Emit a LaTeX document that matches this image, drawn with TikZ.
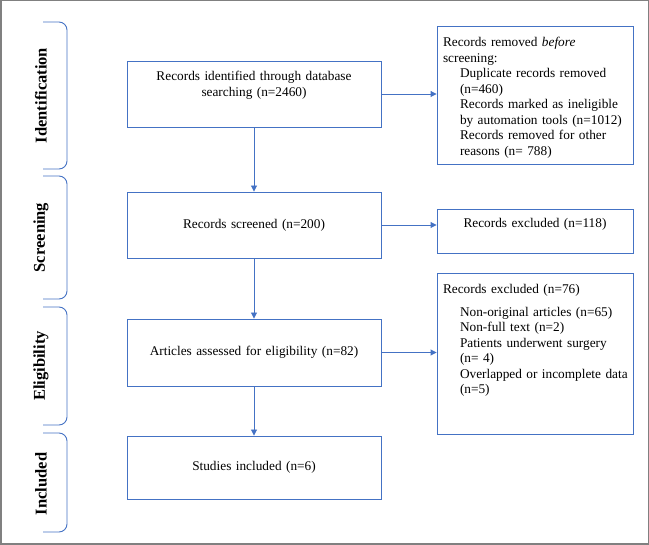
\documentclass[tikz,border=0pt]{standalone}
\usepackage{fontspec}
\setmainfont{Liberation Serif}
\usepackage{tikz}
\usetikzlibrary{arrows.meta,positioning,calc}

\definecolor{boxblue}{HTML}{4472C4}
\newcommand{\boxfont}{\fontsize{13.3}{15.5}\selectfont}
\newcommand{\phasefont}{\fontsize{16.5}{18}\selectfont\bfseries}
\newcommand{\ind}[1]{\mbox{\hspace*{17pt}#1}}

\begin{document}
\begin{tikzpicture}[x=1pt, y=-1pt,
    mainbox/.style={draw=boxblue, line width=0.9pt, minimum width=254pt, text width=242pt, inner sep=6pt, align=center, font=\boxfont},
    sidebox/.style={draw=boxblue, line width=0.9pt, minimum width=196pt, text width=184pt, inner sep=6pt, align=left, font=\boxfont},
    phase/.style={rotate=90, font=\phasefont},
    brace/.style={draw=boxblue, line width=0.9pt, rounded corners=8pt},
    arr/.style={-{Triangle[length=6pt,width=6pt]}, line width=0.9pt, draw=boxblue}
]
\useasboundingbox (0,0) rectangle (649,545);
\draw[black!50, line width=1.5pt] (0.75,0.75) rectangle (648.25,544.25);

% phases on the left
\node[phase] (lid) at (41,95.5) {Identification};
\node[phase] (lscr) at (41,237.5) {Screening};
\node[phase] (lelig) at (41,366) {Eligibility};
\node[phase] (lincl) at (41,484) {Included};
\draw[brace] (43,22) -- (67,22) -- (67,169) -- (43,169);
\draw[brace] (43,176) -- (67,176) -- (67,299) -- (43,299);
\draw[brace] (43,307) -- (67,307) -- (67,425) -- (43,425);
\draw[brace] (43,433) -- (67,433) -- (67,532) -- (43,532);

% main column
\node[mainbox, text height=14pt, text depth=40pt] (ident) at (254,94) {Records identified through database\\searching (n=2460)};
\node[mainbox, minimum height=66pt] (screen) at (254,225) {Records screened (n=200)};
\node[mainbox, minimum height=67pt] (elig) at (254,352.5) {Articles assessed for eligibility (n=82)};
\node[mainbox, minimum height=63pt] (incl) at (254,467.5) {Studies included (n=6)};

% removed / excluded
\node[sidebox, text height=15pt, text depth=111pt] (removed) at (535,95) {Records removed \textit{before}\\
screening:\\
\ind{Duplicate records removed}\\
\ind{(n=460)}\\
\ind{Records marked as ineligible}\\
\ind{by automation tools (n=1012)}\\
\ind{Records removed for other}\\
\ind{reasons (n= 788)}};
\node[sidebox, align=center, text height=13pt, text depth=19pt] (excl) at (535,231) {Records excluded (n=118)};
\node[sidebox, text height=15pt, text depth=134pt] (exclart) at (535,353.5) {Records excluded (n=76)\\[7pt]
\ind{Non-original articles (n=65)}\\
\ind{Non-full text (n=2)}\\
\ind{Patients underwent surgery}\\
\ind{(n= 4)}\\
\ind{Overlapped or incomplete data}\\
\ind{(n=5)}};

\draw[arr] (ident) -- (screen);
\draw[arr] (screen) -- (elig);
\draw[arr] (elig) -- (incl);
\draw[arr] (ident.east) -- (ident.east -| removed.west);
\draw[arr] (screen.east) -- (screen.east -| excl.west);
\draw[arr] (elig.east) -- (elig.east -| exclart.west);
\end{tikzpicture}
\end{document}
